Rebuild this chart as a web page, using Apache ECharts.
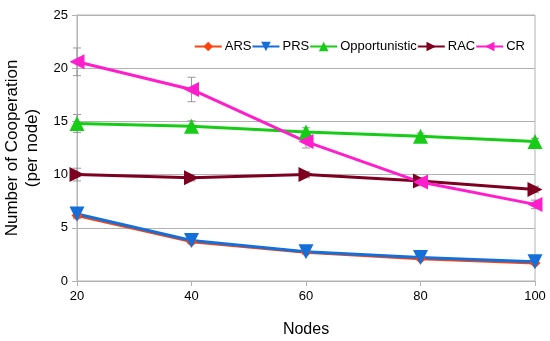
<!DOCTYPE html>
<html><head><meta charset="utf-8">
<script src="https://cdn.jsdelivr.net/npm/echarts@6/dist/echarts.min.js"></script>
<style>html,body{margin:0;padding:0;background:#fff}#c{width:550px;height:341px}</style>
</head><body><div id="c"></div>
<script>
const nodes = [20, 40, 60, 80, 100];
const ARS = [6.15, 3.7, 2.7, 2.1, 1.7];
const PRS = [6.3, 3.8, 2.75, 2.2, 1.8];
const Opportunistic = [14.8, 14.55, 14.0, 13.6, 13.1];
const RAC = [10.0, 9.7, 10.0, 9.4, 8.6];
const CR = [20.6, 18.0, 13.1, 9.3, 7.2];
const errARS = [0.3, 0.2, 0.15, 0.1, 0.1];
const errPRS = [0.3, 0.2, 0.15, 0.1, 0.1];
const errOpp = [0.85, 0.5, 0.4, 0.3, 0.3];
const errRAC = [0.6, 0.3, 0.3, 0.3, 0.3];
const errCR = [1.3, 1.15, 0.6, 0.35, 0.4];
const yTicks = [0, 5, 10, 15, 20, 25];

const chart = echarts.init(document.getElementById('c'));
const font = 'Liberation Sans, Arial, sans-serif';

function lineSeries(name, data, color, symbol, rot) {
  return {
    name, type: 'line', data: nodes.map((x, i) => [x, data[i]]),
    symbol, symbolSize: symbol === 'diamond' ? 11 : 15, symbolRotate: rot,
    lineStyle: { color, width: 3 }, itemStyle: { color },
    showAllSymbol: true, z: 3, animation: false
  };
}
function errSeries(data, err) {
  return {
    type: 'custom', silent: true, z: 2, animation: false,
    data: nodes.map((x, i) => [x, data[i] - err[i], data[i] + err[i]]),
    renderItem: (params, api) => {
      const lo = api.coord([api.value(0), api.value(1)]);
      const hi = api.coord([api.value(0), api.value(2)]);
      const w = 4;
      const st = { stroke: '#999', lineWidth: 1 };
      return { type: 'group', children: [
        { type: 'line', shape: { x1: lo[0], y1: lo[1], x2: hi[0], y2: hi[1] }, style: st },
        { type: 'line', shape: { x1: lo[0]-w, y1: lo[1], x2: lo[0]+w, y2: lo[1] }, style: st },
        { type: 'line', shape: { x1: hi[0]-w, y1: hi[1], x2: hi[0]+w, y2: hi[1] }, style: st }
      ]};
    }
  };
}

chart.setOption({
  animation: false,
  grid: { left: 77, right: 15, top: 15, bottom: 60, show: true, borderColor: '#b3b3b3', borderWidth: 1,
          containLabel: false, outerBoundsMode: 'none' },
  legend: {
    top: 35, right: 20, itemGap: 0, itemWidth: 27, itemHeight: 12,
    textStyle: { fontFamily: font, fontSize: 13, color: '#000', padding: [0, 0, 0, -2] },
    data: ['ARS', 'PRS', 'Opportunistic', 'RAC', 'CR']
  },
  xAxis: {
    type: 'value', min: 20, max: 100, interval: 20,
    name: 'Nodes', nameLocation: 'middle', nameGap: 41,
    nameTextStyle: { fontFamily: font, fontSize: 16, color: '#000' },
    axisLine: { lineStyle: { color: '#b3b3b3' } },
    axisTick: { show: true, length: 5, lineStyle: { color: '#b3b3b3' } },
    axisLabel: { fontFamily: font, fontSize: 13, color: '#000', margin: 9 },
    splitLine: { show: false }
  },
  yAxis: {
    type: 'value', min: 0, max: 25, interval: 5,
    name: 'Number of Cooperation\n(per node)', nameLocation: 'middle', nameGap: 34,
    nameTextStyle: { fontFamily: font, fontSize: 17, color: '#000', lineHeight: 20 },
    axisLine: { show: true, lineStyle: { color: '#b3b3b3' } },
    axisTick: { show: true, length: 5, lineStyle: { color: '#b3b3b3' } },
    axisLabel: { fontFamily: font, fontSize: 13, color: '#000', margin: 9,
      formatter: v => yTicks.includes(v) ? String(v) : '' },
    splitLine: { lineStyle: { color: '#b3b3b3' } }
  },
  series: [
    errSeries(ARS, errARS), errSeries(PRS, errPRS), errSeries(Opportunistic, errOpp),
    errSeries(RAC, errRAC), errSeries(CR, errCR),
    lineSeries('ARS', ARS, '#ff420e', 'diamond', 0),
    lineSeries('PRS', PRS, '#1470d8', 'triangle', 180),
    lineSeries('Opportunistic', Opportunistic, '#16cc16', 'triangle', 0),
    lineSeries('RAC', RAC, '#7e0021', 'triangle', -90),
    lineSeries('CR', CR, '#ff1ecc', 'triangle', 90)
  ]
});
</script></body></html>
